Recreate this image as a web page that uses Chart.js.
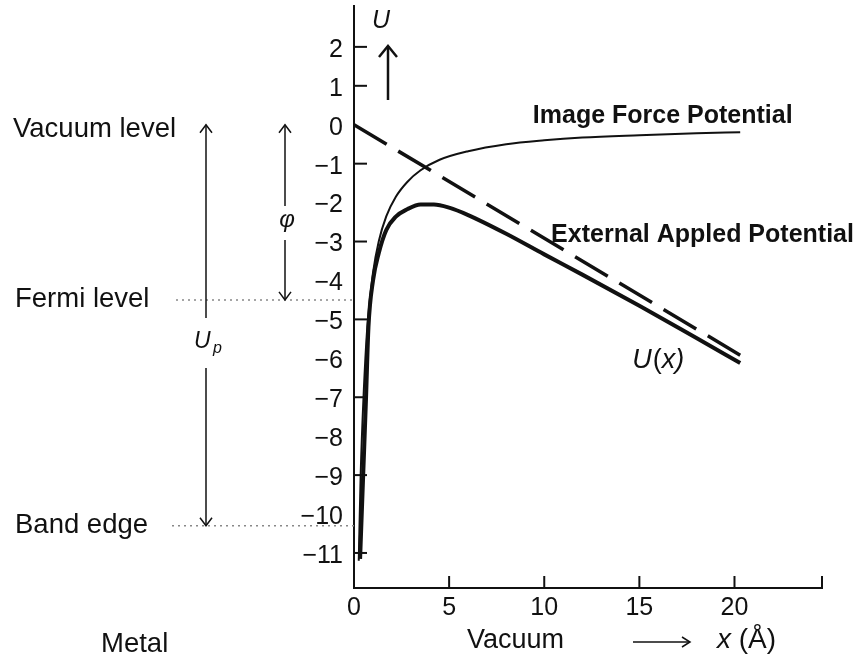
<!DOCTYPE html>
<html>
<head>
<meta charset="utf-8">
<script src="https://cdn.jsdelivr.net/npm/chart.js@4.4.1/dist/chart.umd.min.js"></script>
<style>
  html, body { margin: 0; padding: 0; background: #fff; }
  canvas { display: block; }
</style>
</head>
<body>
<canvas id="grafico" width="857" height="660"></canvas>
<script>
// Distancia desde la superficie del metal (Å) y potenciales (eV)
const xTotal = [0.32, 0.48, 0.63, 0.76, 1.0, 1.3, 1.7, 2.2, 2.8, 3.5, 4.2, 5, 6, 8, 10, 12, 15, 18, 20.3];
const uTotal = [-11.15, -9.03, -7.05, -5.2, -4.0, -3.3, -2.7, -2.36, -2.17, -2.05, -2.05, -2.13, -2.32, -2.8, -3.33, -3.85, -4.65, -5.48, -6.12];

const xImagen = [0.25, 0.35, 0.5, 0.7, 1.0, 1.3, 1.7, 2.2, 2.8, 3.5, 4.5, 6, 8, 10, 12, 15, 18, 20.3];
const uImagen = [-11.2, -9.0, -7.0, -5.2, -3.8, -3.0, -2.35, -1.85, -1.47, -1.17, -0.9, -0.68, -0.5, -0.4, -0.33, -0.27, -0.22, -0.19];

const xExterno = [0, 20.3];
const uExterno = [0, -5.92];

// Ejes
const xEtiquetas = [0, 5, 10, 15, 20];
const xMarcas = [5, 10, 15, 20];
const yEtiquetas = [2, 1, 0, -1, -2, -3, -4, -5, -6, -7, -8, -9, -10, -11];
const yMarcas = [2, 1, -1, -3, -5, -7, -9, -11];

// Niveles de energía del metal (eV)
const nivelVacio = 0;
const nivelFermi = -4.5;
const bordeBanda = -10.3;

const TINTA = "#111";
const FUENTE = "'Liberation Sans', Arial, Helvetica, sans-serif";

const puntos = (xs, ys) => xs.map((v, i) => ({ x: v, y: ys[i] }));
const menos = (v) => (v < 0 ? "\u2212" + Math.abs(v) : String(v));

const linea = (ctx, x1, y1, x2, y2) => {
  ctx.beginPath();
  ctx.moveTo(x1, y1);
  ctx.lineTo(x2, y2);
  ctx.stroke();
};

// punta abierta de flecha; dir = 1 hacia abajo, -1 hacia arriba
const puntaVertical = (ctx, x, y, dir, ancho, largo) => {
  ctx.beginPath();
  ctx.moveTo(x - ancho, y - dir * largo);
  ctx.lineTo(x, y);
  ctx.lineTo(x + ancho, y - dir * largo);
  ctx.stroke();
};

const texto = (ctx, str, x, y, font, align = "left") => {
  ctx.font = font;
  ctx.textAlign = align;
  ctx.textBaseline = "alphabetic";
  ctx.fillText(str, x, y);
  return ctx.measureText(str).width;
};

// marcas de los ejes hacia dentro del gráfico
const marcasInternas = {
  id: "marcasInternas",
  afterDatasetsDraw(chart) {
    const { ctx, scales: { x, y } } = chart;
    ctx.save();
    ctx.strokeStyle = TINTA;
    ctx.lineWidth = 2;
    yMarcas.forEach((v) => {
      const py = y.getPixelForValue(v);
      linea(ctx, x.left, py, x.left + 13, py);
    });
    xMarcas.forEach((v) => {
      const px = x.getPixelForValue(v);
      linea(ctx, px, y.bottom, px, y.bottom - 12);
    });
    linea(ctx, x.right, y.bottom, x.right, y.bottom - 12);
    ctx.restore();
  },
};

const anotaciones = {
  id: "anotaciones",
  afterDraw(chart) {
    const { ctx, scales: { x, y } } = chart;
    const yVacio = y.getPixelForValue(nivelVacio);
    const yFermi = y.getPixelForValue(nivelFermi);
    const yBanda = y.getPixelForValue(bordeBanda);

    ctx.save();
    ctx.fillStyle = TINTA;
    ctx.strokeStyle = TINTA;

    // niveles del metal
    texto(ctx, "Vacuum level", 13, 137, `27.5px ${FUENTE}`);
    texto(ctx, "Fermi level", 15, 307, `27.5px ${FUENTE}`);
    texto(ctx, "Band edge", 15, 533, `27.5px ${FUENTE}`);
    texto(ctx, "Metal", 101, 652, `27.5px ${FUENTE}`);

    ctx.save();
    ctx.strokeStyle = "#888";
    ctx.lineWidth = 1.5;
    ctx.setLineDash([2, 4]);
    linea(ctx, 176, yFermi, x.left, yFermi);
    linea(ctx, 172, yBanda, x.left, yBanda);
    ctx.restore();

    // U_p: del vacío al borde de banda
    ctx.lineWidth = 1.5;
    linea(ctx, 206, yVacio, 206, 318);
    linea(ctx, 206, 368, 206, yBanda);
    puntaVertical(ctx, 206, yVacio, -1, 6, 8);
    puntaVertical(ctx, 206, yBanda, 1, 6, 8);
    texto(ctx, "U", 194, 348, `italic 23px ${FUENTE}`);
    texto(ctx, "p", 213, 353, `italic 16px ${FUENTE}`);

    // función trabajo φ
    linea(ctx, 285, yVacio, 285, 206);
    linea(ctx, 285, 240, 285, yFermi);
    puntaVertical(ctx, 285, yVacio, -1, 6, 8);
    puntaVertical(ctx, 285, yFermi, 1, 6, 8);
    texto(ctx, "\u03c6", 287, 227, `italic 24px ${FUENTE}`, "center");

    // U sobre el eje vertical
    texto(ctx, "U", 372, 28, `italic 25px ${FUENTE}`);
    ctx.lineWidth = 2.5;
    linea(ctx, 388, 100, 388, 46);
    puntaVertical(ctx, 388, 46, -1, 9, 11);

    // nombres de las curvas
    const lx = (v) => x.getPixelForValue(v);
    const ly = (v) => y.getPixelForValue(v);
    texto(ctx, "Image Force Potential", lx(9.4), ly(0.05), `bold 25px ${FUENTE}`);
    texto(ctx, "External Appled Potential", lx(10.36), ly(-3.01), `bold 25px ${FUENTE}`);
    let px = lx(14.62);
    const base = ly(-6.25);
    px += texto(ctx, "U", px, base, `italic 27px ${FUENTE}`) + 1;
    px += texto(ctx, "(", px, base, `27px ${FUENTE}`);
    texto(ctx, "x)", px, base, `italic 27px ${FUENTE}`);

    // título del eje horizontal
    texto(ctx, "Vacuum", 467, 648, `27px ${FUENTE}`);
    ctx.lineWidth = 1.5;
    linea(ctx, 633, 642, 690, 642);
    ctx.beginPath();
    ctx.moveTo(682, 637);
    ctx.lineTo(690, 642);
    ctx.lineTo(682, 647);
    ctx.stroke();
    let ax = 717;
    ax += texto(ctx, "x ", ax, 648, `italic 28px ${FUENTE}`);
    texto(ctx, "(\u00c5)", ax, 648, `28px ${FUENTE}`);

    ctx.restore();
  },
};

const canvas = document.getElementById("grafico");

new Chart(canvas, {
  type: "scatter",
  data: {
    datasets: [
      {
        label: "U(x)",
        data: puntos(xTotal, uTotal),
        showLine: true,
        borderColor: TINTA,
        borderWidth: 4,
        pointRadius: 0,
        cubicInterpolationMode: "monotone",
      },
      {
        label: "Image Force Potential",
        data: puntos(xImagen, uImagen),
        showLine: true,
        borderColor: TINTA,
        borderWidth: 2,
        pointRadius: 0,
        cubicInterpolationMode: "monotone",
      },
      {
        label: "External Appled Potential",
        data: puntos(xExterno, uExterno),
        showLine: true,
        borderColor: TINTA,
        borderWidth: 3.5,
        borderDash: [38, 13.5],
        pointRadius: 0,
      },
    ],
  },
  options: {
    responsive: false,
    animation: false,
    layout: { padding: { left: 294, right: 35, top: 6, bottom: 22 } },
    plugins: {
      legend: { display: false },
      tooltip: { enabled: false },
    },
    scales: {
      x: {
        type: "linear",
        min: 0,
        max: 24.6,
        afterBuildTicks: (s) => {
          s.ticks = xEtiquetas.map((v) => ({ value: v }));
        },
        afterFit: (s) => {
          s.height = 50;
          s.paddingLeft = 0;
          s.paddingRight = 0;
        },
        ticks: {
          autoSkip: false,
          maxRotation: 0,
          padding: 5,
          color: TINTA,
          font: { family: FUENTE, size: 25 },
        },
        grid: { display: false, drawTicks: false },
        border: { display: true, color: TINTA, width: 2 },
      },
      y: {
        type: "linear",
        min: -11.9,
        max: 3.05,
        afterBuildTicks: (s) => {
          s.ticks = yEtiquetas.map((v) => ({ value: v }));
        },
        afterFit: (s) => {
          s.width = 60;
          s.paddingTop = 0;
          s.paddingBottom = 0;
        },
        ticks: {
          autoSkip: false,
          padding: 11,
          labelOffset: 3,
          color: TINTA,
          font: { family: FUENTE, size: 25 },
          callback: (v) => menos(v),
        },
        grid: { display: false, drawTicks: false },
        border: { display: true, color: TINTA, width: 2 },
      },
    },
  },
  plugins: [marcasInternas, anotaciones],
});
</script>
</body>
</html>
